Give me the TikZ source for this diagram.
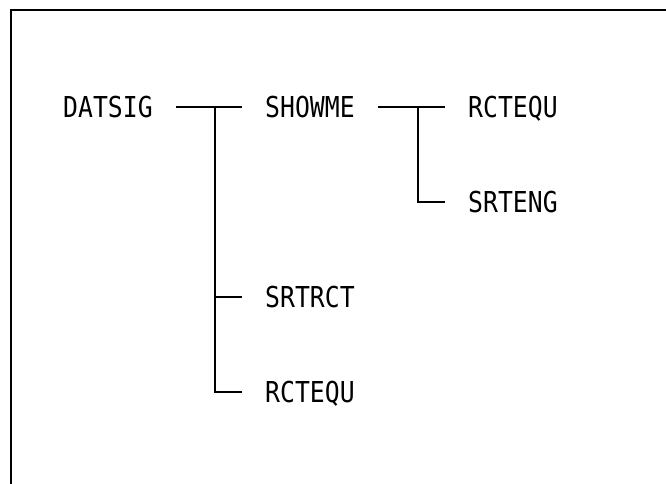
\documentclass[tikz,border=0pt]{standalone}
\usepackage{fontspec}
\newfontfamily\prtfont[FakeStretch=0.86]{DejaVu Sans Mono}
\tikzset{
    routine/.style={
        font=\prtfont\fontsize{28.8}{30}\selectfont,
        anchor=west,
        inner xsep=23pt,
        inner ysep=0pt,
        text height=21pt,
        text depth=0pt
    },
    call/.style={
        line width=1.8pt,
        black
    }
}
\begin{document}
\begin{tikzpicture}[x=1pt,y=-1pt]
    \useasboundingbox (0,0) rectangle (666,484);
    % frame of the page
    \draw[line width=2.8pt] (11,484) -- (11,10) -- (666,10);

    \node[routine] (datsig)  at (40,107)  {DATSIG};
    \node[routine] (showme)  at (242,107) {SHOWME};
    \node[routine] (rctequA) at (445,107) {RCTEQU};
    \node[routine] (srteng)  at (445,202) {SRTENG};
    \node[routine] (srtrct)  at (242,297) {SRTRCT};
    \node[routine] (rctequB) at (242,392) {RCTEQU};

    \coordinate (j1) at (215,107);
    \coordinate (j2) at (418,107);

    \draw[call] (datsig.east) -- (showme.west);
    \draw[call] (j1) |- (rctequB.west);
    \draw[call] (j1 |- srtrct.west) -- (srtrct.west);

    \draw[call] (showme.east) -- (rctequA.west);
    \draw[call] (j2) |- (srteng.west);
\end{tikzpicture}
\end{document}
